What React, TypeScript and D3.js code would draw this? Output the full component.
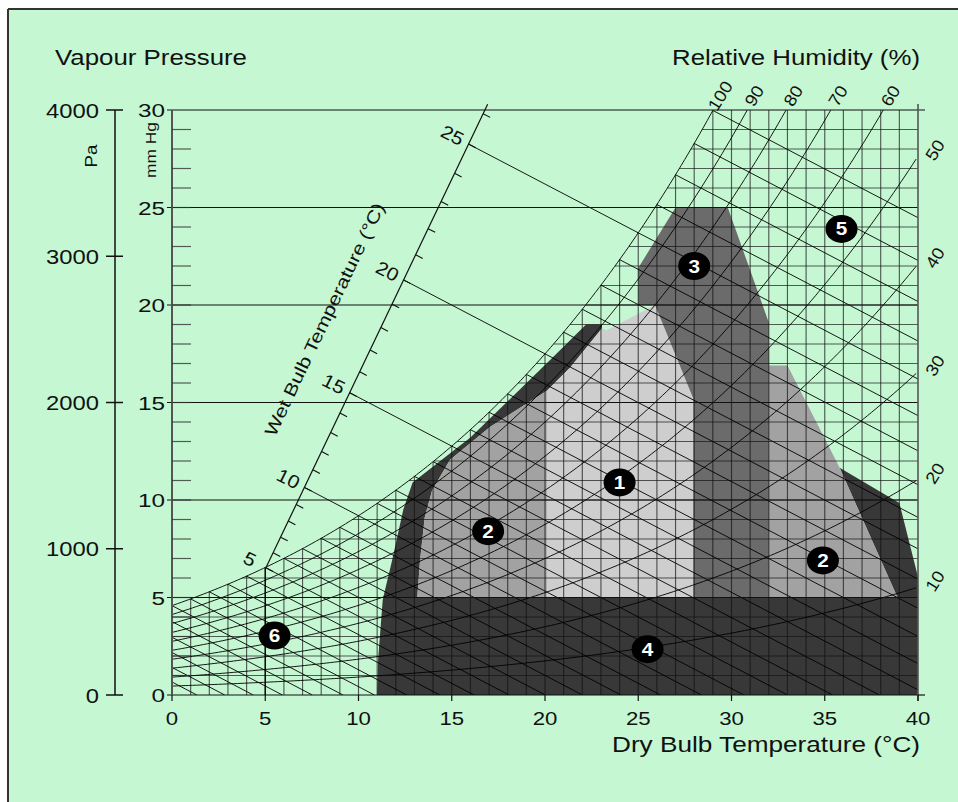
import React, { useMemo } from 'react';
import * as d3 from 'd3';

const W = 958;
const H = 802;

const dryBulbTicks = [0, 5, 10, 15, 20, 25, 30, 35, 40];
const mmHgTicks = [0, 5, 10, 15, 20, 25, 30];
const paTicks = [0, 1000, 2000, 3000, 4000];
const rhLevels = [10, 20, 30, 40, 50, 60, 70, 80, 90, 100];
const rhTopLabels = [100, 90, 80, 70, 60];
const rhRightLabels = [50, 40, 30, 20, 10];
const wetBulbLabels = [5, 10, 15, 20, 25];
const wetBulbGrid = d3.range(-5, 30);
const wetBulbScaleTicks = d3.range(5, 27);

// zones in [dry bulb °C, vapour pressure mmHg]
const zone4: [number, number][] = [
  [11.0, 0], [11.05, 1.8], [11.3, 4.9], [11.8, 6.9], [12.4, 9.5], [12.9, 10.9],
  [16.0, 13.2], [20.3, 17.2], [22.2, 19.0], [23.05, 19.0], [23.05, 18.8],
  [21.35, 16.8], [20.1, 15.6], [17.05, 13.75], [14.9, 12.05], [13.95, 10.5],
  [13.55, 9.1], [13.3, 6.9], [13.15, 5], [38.9, 5], [35.8, 11.65], [39.0, 9.85],
  [40, 6.05], [40, 0],
];
const zone2Left: [number, number][] = [
  [13.15, 5], [13.3, 6.9], [13.55, 9.1], [13.95, 10.5], [14.9, 12.05],
  [17.05, 13.75], [20.1, 15.6], [20.1, 5],
];
const zone1: [number, number][] = [
  [20.1, 5], [20.1, 15.6], [21.35, 16.8], [23.05, 18.8], [23.3, 18.7],
  [25.9, 20.0], [27.95, 15.2], [27.95, 5],
];
const zone3: [number, number][] = [
  [25.0, 20.0], [25.0, 21.9], [27.0, 25.0], [29.8, 25.0], [32.0, 19.1],
  [32.0, 5], [27.95, 5], [27.95, 15.2], [25.9, 20.0],
];
const zone2Right: [number, number][] = [
  [32.0, 5], [32.0, 16.9], [33.0, 16.9], [35.8, 11.65], [38.9, 5],
];

const markers = [
  { label: '1', t: 24.0, e: 10.9 },
  { label: '2', t: 16.95, e: 8.4 },
  { label: '2', t: 34.9, e: 6.9 },
  { label: '3', t: 28.0, e: 22.0 },
  { label: '4', t: 25.5, e: 2.35 },
  { label: '5', t: 35.9, e: 23.9 },
  { label: '6', t: 5.5, e: 3.05 },
];

const FONT = "'Liberation Sans', Arial, Helvetica, sans-serif";

// saturation vapour pressure in mmHg (Magnus)
const es = (t: number) => 6.112 * Math.exp((17.62 * t) / (243.12 + t)) * 0.750062;
const dew = (e: number) => {
  const a = Math.log(e / 0.750062 / 6.112);
  return (243.12 * a) / (17.62 - a);
};
const PSY = 0.5; // mmHg per °C
const scaleStartE = 6.45;
const scaleSlope = 2.0;
const wbScaleT = (tw: number) => (es(tw) + PSY * tw + scaleSlope * 5 - scaleStartE) / (scaleSlope + PSY);
const wbScaleE = (t: number) => scaleStartE + scaleSlope * (t - 5);

function SText(props: {
  x: number; y: number; anchor?: string; size: number; sx?: number; rotate?: number;
  children: React.ReactNode; fill?: string; weight?: string | number; len?: number;
}) {
  const { x, y, anchor = 'start', size, sx = 1.2, rotate = 0, children, fill = '#111', weight = 'normal', len } = props;
  return (
    <text
      transform={`translate(${x},${y}) rotate(${rotate}) scale(${len ? 1 : sx},1)`}
      textAnchor={anchor}
      fontSize={size}
      fontFamily={FONT}
      fill={fill}
      fontWeight={weight}
      textLength={len}
      lengthAdjust={len ? 'spacingAndGlyphs' : undefined}
    >
      {children}
    </text>
  );
}

export default function App() {
  const x = d3.scaleLinear().domain([0, 40]).range([172, 918]);
  const y = d3.scaleLinear().domain([0, 30]).range([695, 110]);
  const yPa = d3.scaleLinear().domain([0, 4000]).range([695, 110]);

  const line = d3.line<[number, number]>().x((d) => x(d[0])).y((d) => y(d[1]));
  const poly = (pts: [number, number][]) => line(pts) + 'Z';

  const rhPaths = useMemo(
    () =>
      rhLevels.map((rh) => {
        const pts: [number, number][] = d3.range(-0.5, 40.01, 0.2).map((t) => [t, (rh / 100) * es(t)]);
        return { rh, d: line(pts) as string };
      }),
    []
  );

  const wbPaths = wetBulbGrid.map((tw) => {
    const e0 = es(tw);
    const tEnd = tw + e0 / PSY;
    const pts: [number, number][] = [[tw, e0], [tEnd, 0]];
    return line(pts) as string;
  });

  const wbUpper = wetBulbLabels.filter((tw) => tw > 5).map((tw) => {
    const ts = wbScaleT(tw);
    return line([[ts, wbScaleE(ts)], [tw, es(tw)]]) as string;
  });

  const gridV = d3.range(1, 40).map((t) => ({ t, top: Math.min(es(t), 30) }));
  const gridH = d3.range(1, 30).map((e) => ({ e, left: Math.max(0, dew(e)) }));

  const scaleTopT = 5 + (30.3 - scaleStartE) / scaleSlope;
  const dirLen = Math.hypot(18.65, PSY * 19.5);
  const dx = 18.65 / dirLen;
  const dy = (PSY * 19.5) / dirLen;

  const gridStroke = '#111';

  return (
    <svg width={W} height={H} style={{ position: 'absolute', left: 0, top: 0 }} xmlns="http://www.w3.org/2000/svg">
      <defs>
        <clipPath id="plotClip">
          <rect x={x(0)} y={y(30)} width={x(40) - x(0)} height={y(0) - y(30)} />
        </clipPath>
      </defs>
      <rect x={0} y={0} width={W} height={H} fill="#ffffff" />
      <rect x={8} y={9} width={W - 8} height={H - 9} fill="#c6f7d3" />
      <line x1={8} y1={9} x2={W} y2={9} stroke="#333" strokeWidth={2} />
      <line x1={8} y1={9} x2={8} y2={H} stroke="#333" strokeWidth={2} />

      {/* zones */}
      <g>
        <path d={poly(zone4)} fill="#383838" />
        <path d={poly(zone2Left)} fill="#a2a2a2" />
        <path d={poly(zone2Right)} fill="#a2a2a2" />
        <path d={poly(zone1)} fill="#cecece" />
        <path d={poly(zone3)} fill="#6b6b6b" />
      </g>

      <g clipPath="url(#plotClip)">
        {/* grid */}
        {gridV.map((g) => (
          <line key={'v' + g.t} x1={x(g.t)} x2={x(g.t)} y1={y(0)} y2={y(g.top)} stroke={gridStroke} strokeOpacity={0.68} strokeWidth={1.15} />
        ))}
        {gridH.map((g) => (
          <line key={'h' + g.e} x1={x(g.left)} x2={x(40)} y1={y(g.e)} y2={y(g.e)} stroke={gridStroke} strokeOpacity={0.68} strokeWidth={1.15} />
        ))}
        {/* relative humidity curves */}
        {rhPaths.map((p) => (
          <path key={'rh' + p.rh} d={p.d} fill="none" stroke="#000" strokeWidth={1} strokeOpacity={0.9} />
        ))}
        {/* wet bulb lines */}
        {wbPaths.map((d, i) => (
          <path key={'wb' + i} d={d} fill="none" stroke="#000" strokeWidth={1} strokeOpacity={0.9} />
        ))}
        {wbUpper.map((d, i) => (
          <path key={'wbu' + i} d={d} fill="none" stroke="#000" strokeWidth={1} strokeOpacity={0.9} />
        ))}
      </g>

      {/* full-width vapour pressure lines */}
      {mmHgTicks.map((e) => (
        <line key={'f' + e} x1={x(0) - 5} x2={e === 30 ? x(40) + 7 : x(40)} y1={y(e)} y2={y(e)} stroke="#111" strokeWidth={1.2} />
      ))}
      {/* left axis & ticks */}
      <line x1={x(0)} x2={x(0)} y1={y(0)} y2={y(30)} stroke="#555" strokeWidth={2} />
      {d3.range(1, 30).map((e) => (
        <line key={'t' + e} x1={x(0)} x2={x(0) + 19} y1={y(e)} y2={y(e)} stroke="#333" strokeWidth={1.2} strokeOpacity={0.8} />
      ))}
      {/* right edge */}
      <line x1={x(40)} x2={x(40)} y1={y(30) - 6} y2={y(0) + 6} stroke="#555" strokeWidth={1.6} />
      <line x1={x(40)} x2={x(40) + 7} y1={y(0)} y2={y(0)} stroke="#111" strokeWidth={1.2} />
      {/* bottom axis ticks */}
      {dryBulbTicks.map((t) => (
        <line key={'xt' + t} x1={x(t)} x2={x(t)} y1={y(0)} y2={y(0) + 6} stroke="#111" strokeWidth={1.2} />
      ))}
      <line x1={x(5)} x2={x(5)} y1={y(0)} y2={y(es(5))} stroke="#000" strokeWidth={1.3} />

      {/* Pa axis */}
      <line x1={115} x2={115} y1={yPa(0)} y2={yPa(4000)} stroke="#111" strokeWidth={1.5} />
      {paTicks.map((p) => (
        <line key={'pa' + p} x1={106} x2={123} y1={yPa(p)} y2={yPa(p)} stroke="#111" strokeWidth={1.5} />
      ))}
      {paTicks.map((p) => (
        <SText key={'pal' + p} x={99} y={yPa(p) + 7.5} anchor="end" size={19.5} sx={1.22}>{p}</SText>
      ))}
      <SText x={97} y={156} anchor="middle" size={17} sx={1.1} rotate={-90}>Pa</SText>

      {/* mmHg axis labels */}
      {mmHgTicks.map((e) => (
        <SText key={'mm' + e} x={165} y={y(e) + 7} anchor="end" size={19} sx={1.28}>{e}</SText>
      ))}
      <SText x={156} y={150} anchor="middle" size={15.5} sx={1.12} rotate={-90}>mm Hg</SText>

      {/* x labels */}
      {dryBulbTicks.map((t) => (
        <SText key={'xl' + t} x={x(t)} y={725} anchor="middle" size={18.5} sx={1.2}>{t}</SText>
      ))}

      {/* wet bulb scale */}
      <line
        x1={x(wbScaleT(5))} y1={y(wbScaleE(wbScaleT(5)))}
        x2={x(scaleTopT)} y2={y(30.3)}
        stroke="#111" strokeWidth={1.2}
      />
      {wetBulbScaleTicks.map((tw) => {
        const ts = wbScaleT(tw);
        const px = x(ts);
        const py = y(wbScaleE(ts));
        return <line key={'wt' + tw} x1={px} y1={py} x2={px + dx * 8} y2={py + dy * 8} stroke="#111" strokeWidth={1.1} />;
      })}
      {wetBulbLabels.map((tw) => {
        const ts = wbScaleT(tw);
        const px = x(ts);
        const py = y(wbScaleE(ts));
        return (
          <SText key={'wl' + tw} x={px - 19} y={py - 3} anchor="middle" size={18.5} sx={1.12} rotate={27}>{tw}</SText>
        );
      })}
      <SText x={330} y={322} anchor="middle" size={17.5} rotate={-64.5} len={256}>Wet Bulb Temperature (°C)</SText>

      {/* RH labels */}
      {rhTopLabels.map((rh) => {
        const t = d3.range(0, 40, 0.01).find((tt) => (rh / 100) * es(tt) >= 30) as number;
        return (
          <SText key={'rt' + rh} x={x(t) + 12} y={99} anchor="middle" size={17} sx={1.1} rotate={-58}>{rh}</SText>
        );
      })}
      {rhRightLabels.map((rh) => (
        <SText key={'rr' + rh} x={940} y={y((rh / 100) * es(40)) - 3} anchor="middle" size={17} sx={1.1} rotate={-58}>{rh}</SText>
      ))}

      {/* titles */}
      <SText x={55} y={65} size={22.5} len={192}>Vapour Pressure</SText>
      <SText x={672} y={65} size={22.5} len={248}>Relative Humidity (%)</SText>
      <SText x={612} y={752} size={22.5} len={308}>Dry Bulb Temperature (°C)</SText>

      {/* zone markers */}
      {markers.map((m, i) => (
        <g key={'m' + i}>
          <ellipse cx={x(m.t)} cy={y(m.e)} rx={16} ry={14} fill="#000" />
          <SText x={x(m.t)} y={y(m.e) + 6.5} anchor="middle" size={18} sx={1.15} fill="#fff" weight="bold">{m.label}</SText>
        </g>
      ))}
    </svg>
  );
}
